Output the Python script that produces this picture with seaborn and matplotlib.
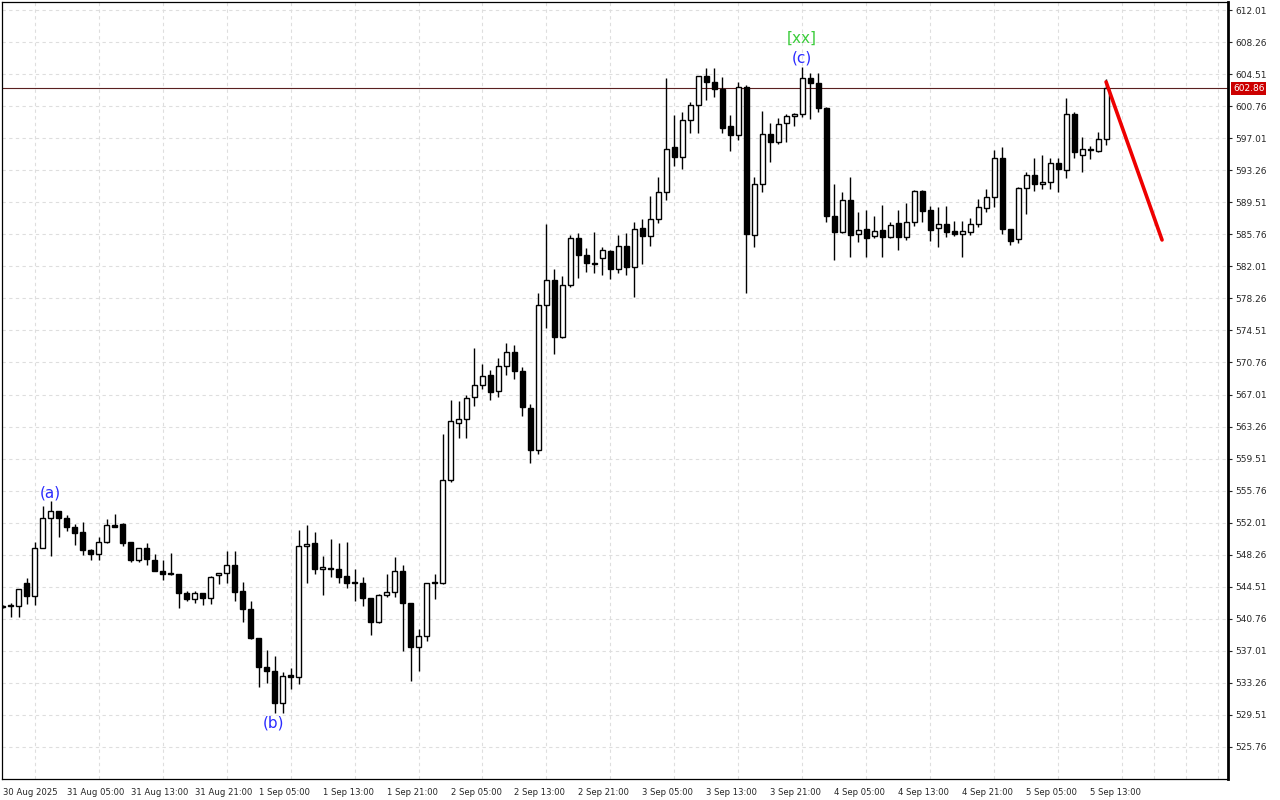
import numpy as np
import pandas as pd
import seaborn as sns
import matplotlib
matplotlib.use("Agg")
import matplotlib.pyplot as plt

# hourly candles, index 0 = 30 Aug 2025 21:00
opens = [542.1, 542.2, 542.2, 545.0, 543.4, 549.0, 552.5, 553.4, 552.5, 551.5,
         550.9, 548.8, 548.4, 549.7, 551.7, 551.8, 549.7, 547.6, 549.0, 547.7,
         546.4, 546.05, 546.0, 543.75, 543.05, 543.75, 543.15, 545.85, 546.08, 547.0,
         544.0, 541.9, 538.5, 535.1, 534.7, 530.9, 534.2, 533.9, 549.3, 549.6,
         546.55, 546.75, 546.6, 545.75, 545.0, 545.0, 543.15, 540.35, 543.6, 543.85,
         546.4, 542.6, 537.5, 538.7, 544.95, 544.9, 557.0, 563.7, 564.1, 566.7,
         568.1, 569.25, 567.4, 570.35, 571.95, 569.8, 565.4, 560.5, 577.45, 580.4,
         573.8, 579.8, 585.3, 583.3, 582.4, 582.95, 583.85, 581.65, 584.45, 581.9,
         586.45, 585.55, 587.5, 590.7, 595.95, 594.85, 599.1, 600.95, 604.25, 603.6,
         602.75, 598.4, 597.35, 602.95, 585.7, 591.6, 597.45, 596.55, 598.75, 599.55,
         599.9, 604.0, 603.45, 600.6, 587.95, 586.05, 589.75, 585.75, 586.4, 585.55,
         586.25, 585.4, 587.1, 585.4, 587.2, 590.85, 588.6, 586.45, 586.95, 586.15,
         585.75, 586.05, 586.95, 588.8, 590.15, 594.75, 586.4, 585.2, 591.2, 592.65,
         591.65, 591.9, 594.05, 593.3, 599.9, 595.1, 595.6, 595.5, 596.9]
highs = [542.4, 542.6, 544.3, 545.5, 549.8, 554.0, 554.5, 553.4, 552.9, 551.9,
         552.1, 548.9, 550.3, 552.4, 553.0, 552.0, 549.8, 549.1, 549.6, 548.3,
         547.6, 548.5, 546.05, 544.0, 544.0, 543.8, 545.8, 546.1, 548.7, 548.7,
         545.1, 542.8, 538.5, 537.1, 536.4, 534.5, 535.0, 551.2, 551.7, 550.9,
         548.1, 550.1, 549.6, 549.7, 546.6, 545.6, 543.2, 543.7, 546.0, 548.0,
         547.0, 542.6, 539.6, 545.0, 546.0, 562.4, 566.4, 566.25, 566.95, 572.45,
         570.6, 569.9, 571.25, 573.0, 572.8, 570.2, 565.9, 578.9, 587.0, 581.7,
         580.9, 585.7, 585.9, 584.1, 586.0, 584.25, 583.9, 585.7, 585.9, 587.15,
         587.5, 590.25, 592.45, 604.0, 599.7, 600.1, 601.3, 604.3, 605.2, 605.2,
         604.2, 599.7, 603.6, 603.25, 592.5, 600.2, 598.75, 599.35, 599.9, 600.0,
         605.3, 604.6, 604.6, 600.7, 591.65, 590.7, 592.45, 588.4, 588.6, 587.9,
         589.2, 587.2, 588.6, 589.45, 590.95, 590.95, 589.05, 589.0, 589.05, 587.3,
         587.3, 587.7, 589.85, 591.05, 595.65, 595.95, 586.4, 591.3, 593.1, 594.75,
         595.1, 594.75, 594.75, 601.7, 600.1, 597.2, 596.1, 597.7, 603.9]
lows = [542.0, 541.0, 541.0, 542.5, 542.4, 549.0, 548.1, 550.3, 551.0, 549.4,
        548.2, 547.6, 547.6, 549.6, 551.5, 549.3, 547.4, 547.4, 547.0, 546.3,
        545.3, 545.9, 542.0, 542.9, 542.65, 542.4, 542.5, 544.8, 544.9, 542.8,
        540.4, 538.4, 532.8, 533.2, 529.7, 529.7, 532.5, 533.1, 545.0, 546.0,
        543.6, 545.7, 545.0, 544.4, 542.9, 542.3, 538.9, 540.3, 543.35, 543.35,
        537.0, 533.5, 534.6, 538.2, 543.1, 544.8, 556.8, 561.9, 561.95, 565.7,
        567.7, 566.4, 566.7, 569.3, 568.8, 564.5, 559.0, 560.1, 574.8, 571.8,
        573.6, 579.55, 580.6, 581.4, 581.2, 581.0, 580.5, 581.2, 581.0, 578.45,
        582.3, 584.45, 587.05, 589.8, 593.8, 593.4, 597.6, 597.6, 601.5, 601.8,
        597.65, 595.55, 596.8, 578.85, 584.3, 590.75, 594.2, 596.35, 596.55, 598.45,
        599.5, 599.3, 600.1, 587.2, 582.75, 585.9, 583.15, 584.9, 583.15, 585.3,
        583.05, 585.3, 583.9, 585.1, 586.75, 587.2, 585.0, 584.3, 585.5, 585.55,
        583.15, 585.7, 586.65, 588.4, 589.0, 585.75, 584.5, 584.8, 588.15, 590.85,
        591.05, 591.05, 590.75, 592.3, 594.7, 593.1, 594.55, 595.4, 596.2]
closes = [542.3, 542.2, 544.2, 543.4, 549.0, 552.5, 553.4, 552.5, 551.5, 550.8,
          548.8, 548.4, 549.7, 551.7, 551.55, 549.6, 547.6, 549.0, 547.8, 546.4,
          546.0, 546.0, 543.75, 543.05, 543.75, 543.15, 545.7, 546.08, 547.0, 543.9,
          541.9, 538.5, 535.1, 534.7, 530.9, 534.1, 533.9, 549.3, 549.5, 546.55,
          546.8, 546.6, 545.7, 544.9, 544.9, 543.15, 540.35, 543.6, 543.85, 546.4,
          542.6, 537.5, 538.8, 544.95, 545.0, 557.0, 563.9, 564.1, 566.6, 568.1,
          569.15, 567.35, 570.35, 571.95, 569.8, 565.5, 560.5, 577.45, 580.4, 573.8,
          579.8, 585.3, 583.3, 582.4, 582.3, 583.95, 581.65, 584.45, 581.9, 586.4,
          585.6, 587.5, 590.7, 595.8, 594.85, 599.1, 600.95, 604.25, 603.6, 602.75,
          598.25, 597.35, 602.95, 585.8, 591.6, 597.45, 596.55, 598.7, 599.65, 599.9,
          604.0, 603.45, 600.6, 587.95, 586.05, 589.75, 585.7, 586.25, 585.35, 586.15,
          585.4, 586.85, 585.4, 587.2, 590.85, 588.5, 586.25, 586.95, 586.05, 585.75,
          586.1, 586.95, 588.9, 590.15, 594.75, 586.4, 585.0, 591.2, 592.65, 591.6,
          591.9, 594.05, 593.35, 599.9, 595.35, 595.8, 595.6, 596.9, 602.86]

tick_pos = [0, 8, 16, 24, 32, 40, 48, 56, 64, 72, 80, 88, 96, 104, 112, 120, 128, 136]
tick_labels = ["30 Aug 2025", "31 Aug 05:00", "31 Aug 13:00", "31 Aug 21:00",
               "1 Sep 05:00", "1 Sep 13:00", "1 Sep 21:00", "2 Sep 05:00",
               "2 Sep 13:00", "2 Sep 21:00", "3 Sep 05:00", "3 Sep 13:00",
               "3 Sep 21:00", "4 Sep 05:00", "4 Sep 13:00", "4 Sep 21:00",
               "5 Sep 05:00", "5 Sep 13:00"]
price_ticks = [612.01, 608.26, 604.51, 600.76, 597.01, 593.26, 589.51, 585.76,
               582.01, 578.26, 574.51, 570.76, 567.01, 563.26, 559.51, 555.76,
               552.01, 548.26, 544.51, 540.76, 537.01, 533.26, 529.51, 525.76]
last_price = 602.86
proj_x = [138, 145]
proj_y = [603.6, 585.1]
wave_text = ["(a)", "(b)", "(c)", "[xx]"]
wave_x = [6, 33.9, 100, 99.9]
wave_y = [555.5, 528.6, 606.4, 608.7]
wave_col = ["#2b2bff", "#2b2bff", "#2b2bff", "#3ccc3c"]

sns.set_style("white")
plt.rcParams["font.family"] = ["DejaVu Sans"]

df = pd.DataFrame({"o": opens, "h": highs, "l": lows, "c": closes})
df["k"] = np.arange(len(df))
up = df["c"] >= df["o"]
body_lo = df[["o", "c"]].min(axis=1)
body_h = (df["c"] - df["o"]).abs().clip(lower=0.12)

fig = plt.figure(figsize=(12.8, 8), dpi=100)
ax = fig.add_axes([2 / 1280, 21 / 800, 1226 / 1280, 777 / 800])

ax.vlines(df["k"], df["l"], df["h"], color="black", lw=1, zorder=2)
ax.bar(df["k"], body_h, bottom=body_lo, width=0.62,
       color=np.where(up, "white", "black"), edgecolor="black", linewidth=1, zorder=3)

sns.lineplot(x=proj_x, y=proj_y, ax=ax, color="#ee0000", lw=2.6, zorder=4)
ax.axhline(last_price, color="#5a2020", lw=0.8, zorder=1)

for t, x, y, c in zip(wave_text, wave_x, wave_y, wave_col):
    ax.text(x, y, t, color=c, fontsize=11, ha="center", va="center", zorder=5)

ax.set_xlim(-0.1, 153.25)
ax.set_ylim(522.01, 612.95)

ax.yaxis.tick_right()
ax.set_yticks(price_ticks, [f"{p:.2f}" for p in price_ticks])
ax.set_xticks(tick_pos, tick_labels, ha="left")
ax.set_xticks(range(0, 154, 4), minor=True)
ax.tick_params(axis="y", direction="out", length=3, pad=2, labelsize=6.5, width=0.8)
ax.tick_params(axis="x", which="major", direction="out", length=5, pad=1.5, labelsize=6.1, width=0.8)
ax.tick_params(axis="x", which="minor", length=0)
ax.grid(which="minor", axis="x", color="#dedede", lw=0.8, ls=(0, (3, 3)))
ax.grid(which="major", axis="y", color="#dedede", lw=0.8, ls=(0, (3, 3)))
ax.grid(which="major", axis="x", visible=False)
ax.set_axisbelow(True)

for s in ["left", "top", "bottom"]:
    ax.spines[s].set_color("black")
    ax.spines[s].set_linewidth(0.9)
ax.spines["right"].set_color("black")
ax.spines["right"].set_linewidth(2)

ax.text(1.004, last_price, f"{last_price:.2f}", transform=ax.get_yaxis_transform(),
        ha="left", va="center", color="white", fontsize=6.5, clip_on=False,
        bbox=dict(boxstyle="square,pad=0.2", fc="#cc0000", ec="none"))

ax.set_xlabel("")
ax.set_ylabel("")
fig.savefig("out.png", dpi=100)
